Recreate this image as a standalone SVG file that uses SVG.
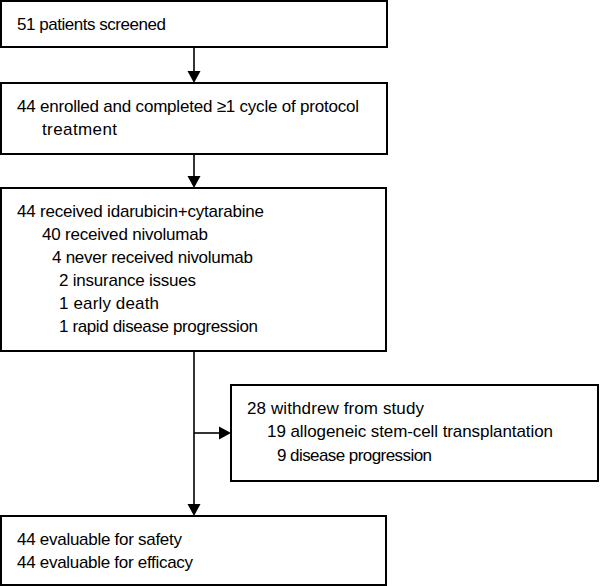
<svg xmlns="http://www.w3.org/2000/svg" width="600" height="586" viewBox="0 0 600 586">
<defs>
<style>
.box{fill:#fff;stroke:#000;stroke-width:2}
.t{font-family:"Liberation Sans",Arial,sans-serif;font-size:17px;fill:#000}
.ln{stroke:#000;stroke-width:1.6;fill:none}
.ah{fill:#000}
</style>
</defs>
<rect width="600" height="586" fill="#fff"/>
<g id="connectors">
<line class="ln" x1="194" y1="47" x2="194" y2="72"/>
<polygon class="ah" points="187.5,71 200.5,71 194,83"/>
<line class="ln" x1="194" y1="154" x2="194" y2="177"/>
<polygon class="ah" points="187.5,176 200.5,176 194,188"/>
<line class="ln" x1="194" y1="351" x2="194" y2="505"/>
<polygon class="ah" points="187.5,504 200.5,504 194,516"/>
<line class="ln" x1="194" y1="433" x2="220" y2="433"/>
<polygon class="ah" points="219,426.5 219,439.5 231,433"/>
</g>
<g id="n1">
<rect class="box" x="1" y="1" width="386" height="46"/>
<text class="t" x="17" y="30" textLength="149">51 patients screened</text>
</g>
<g id="n2">
<rect class="box" x="1" y="83" width="386" height="71"/>
<text class="t" x="17" y="112" textLength="342">44 enrolled and completed ≥1 cycle of protocol</text>
<text class="t" x="42" y="135" textLength="75">treatment</text>
</g>
<g id="n3">
<rect class="box" x="1" y="188" width="385" height="163"/>
<text class="t" x="17" y="217" textLength="247">44 received idarubicin+cytarabine</text>
<text class="t" x="42" y="240" textLength="166">40 received nivolumab</text>
<text class="t" x="52" y="263" textLength="201">4 never received nivolumab</text>
<text class="t" x="59" y="286" textLength="137">2 insurance issues</text>
<text class="t" x="59" y="309" textLength="100">1 early death</text>
<text class="t" x="59" y="332" textLength="199">1 rapid disease progression</text>
</g>
<g id="n4">
<rect class="box" x="231" y="385" width="367" height="96"/>
<text class="t" x="247" y="414" textLength="177">28 withdrew from study</text>
<text class="t" x="267" y="437" textLength="286">19 allogeneic stem-cell transplantation</text>
<text class="t" x="277" y="461" textLength="155">9 disease progression</text>
</g>
<g id="n5">
<rect class="box" x="1" y="516" width="385" height="69"/>
<text class="t" x="17" y="545" textLength="165">44 evaluable for safety</text>
<text class="t" x="17" y="568" textLength="176">44 evaluable for efficacy</text>
</g>
</svg>
